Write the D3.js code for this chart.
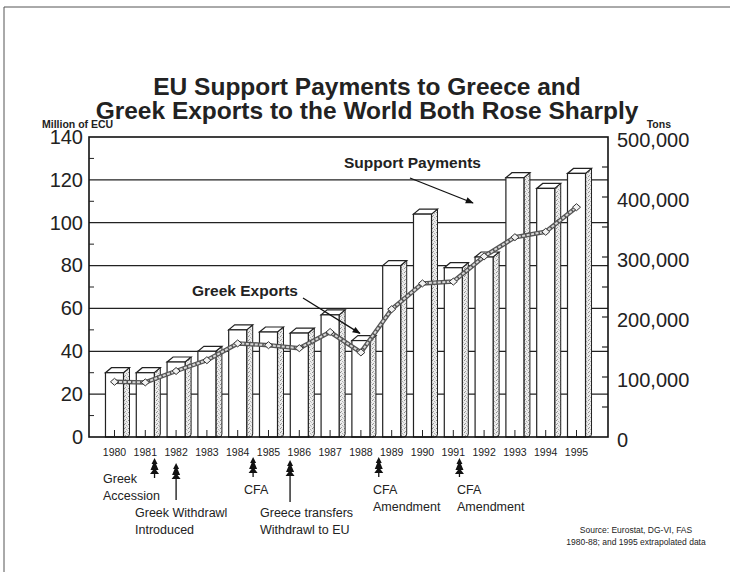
<!DOCTYPE html>
<html>
<head>
<meta charset="utf-8">
<script src="https://cdn.jsdelivr.net/npm/d3@7/dist/d3.min.js"></script>
<style>
  html, body { margin: 0; padding: 0; background: #fff; }
  svg { display: block; font-family: "Liberation Sans", Arial, Helvetica, sans-serif; }
</style>
</head>
<body>
<svg id="chart" width="730" height="572"></svg>
<script>
// Years on the category axis
const years = ["1980","1981","1982","1983","1984","1985","1986","1987",
               "1988","1989","1990","1991","1992","1993","1994","1995"];
// EU support payments, million ECU (bars, left axis)
const payments = [30, 30, 35, 40, 50, 49, 48.5, 57, 45, 80, 104, 79, 84, 121, 116, 123];
// Greek exports to the world, tons (line, right axis)
const exportTons = [92000, 91000, 110000, 128000, 156000, 153000, 148000, 175000,
                    141000, 213000, 256000, 259000, 301000, 333000, 342000, 383000];
// Axis tick values
const ecuTicks = [0, 20, 40, 60, 80, 100, 120, 140];
const tonTicks = [0, 100000, 200000, 300000, 400000, 500000];
// Policy events marked under the year axis
const events = [
  { year: "1981", lines: ["Greek", "Accession"] },
  { year: "1982", lines: ["Greek Withdrawl", "Introduced"] },
  { year: "1984", lines: ["CFA"] },
  { year: "1986", lines: ["Greece transfers", "Withdrawl to EU"] },
  { year: "1988", lines: ["CFA", "Amendment"] },
  { year: "1991", lines: ["CFA", "Amendment"] }
];
const titleLines = ["EU Support Payments to Greece and",
                    "Greek Exports to the World Both Rose Sharply"];
const sourceLines = ["Source: Eurostat, DG-VI, FAS", "1980-88; and 1995 extrapolated data"];

const svg = d3.select("#chart");
const plot = { left: 89, right: 608, top: 137, bottom: 437 };

const x = d3.scaleBand().domain(years).range([plot.left, plot.right])
  .paddingInner(0.22).paddingOuter(0.535);
const yEcu = d3.scaleLinear().domain([0, 140]).range([plot.bottom, plot.top]);
const yTon = d3.scaleLinear().domain([0, 500000]).range([plot.bottom, plot.top]);

const depthX = 6, depthY = 5;
const frontW = x.bandwidth() - depthX;
const cx = d => x(d) + frontW / 2;

// speckled texture for bar sides
const defs = svg.append("defs");
const pat = defs.append("pattern").attr("id", "stipple")
  .attr("width", 4).attr("height", 4).attr("patternUnits", "userSpaceOnUse");
pat.append("rect").attr("width", 4).attr("height", 4).attr("fill", "#ececec");
[[0, 0, "#8c8c8c"], [2, 1, "#b0b0b0"], [1, 3, "#9c9c9c"], [3, 2, "#c4c4c4"]].forEach(([px, py, c]) =>
  pat.append("rect").attr("x", px).attr("y", py).attr("width", 1).attr("height", 1).attr("fill", c));

// page frame
svg.append("path").attr("d", "M4,572V7H730").attr("fill", "none")
  .attr("stroke", "#555").attr("stroke-width", 1);

// title
svg.append("g").selectAll("text").data(titleLines).join("text")
  .attr("x", 367).attr("y", (d, i) => 95 + i * 24)
  .attr("text-anchor", "middle").attr("font-size", 24.5).attr("font-weight", "bold")
  .attr("fill", "#222").text(d => d);

// axis unit labels
svg.append("text").attr("x", 42).attr("y", 128).attr("font-size", 10.5)
  .attr("font-weight", "bold").attr("fill", "#222").text("Million of ECU");
svg.append("text").attr("x", 671).attr("y", 128).attr("text-anchor", "end")
  .attr("font-size", 10.5).attr("font-weight", "bold").attr("fill", "#222").text("Tons");

// horizontal grid (behind bars)
svg.append("g").selectAll("line").data(ecuTicks.filter(t => t > 0 && t < 140)).join("line")
  .attr("x1", plot.left).attr("x2", plot.right)
  .attr("y1", d => yEcu(d)).attr("y2", d => yEcu(d))
  .attr("stroke", "#222").attr("stroke-width", 1.2);

// 3D bars
const bars = svg.append("g").selectAll("g").data(years).join("g");
bars.append("path") // side face
  .attr("d", (d, i) => {
    const x0 = x(d) + frontW, yt = yEcu(payments[i]);
    return `M${x0},${yt}L${x0 + depthX},${yt - depthY}L${x0 + depthX},${plot.bottom - 3}` +
           `Q${x0 + depthX},${plot.bottom} ${x0 + depthX - 3},${plot.bottom}L${x0},${plot.bottom}Z`;
  })
  .attr("fill", "url(#stipple)").attr("stroke", "#222").attr("stroke-width", 1);
bars.append("path") // top face
  .attr("d", (d, i) => {
    const x0 = x(d), yt = yEcu(payments[i]);
    return `M${x0},${yt}L${x0 + frontW},${yt}L${x0 + frontW + depthX},${yt - depthY}` +
           `L${x0 + depthX},${yt - depthY}Z`;
  })
  .attr("fill", "#fff").attr("stroke", "#222").attr("stroke-width", 1.2);
bars.append("rect") // front face
  .attr("x", d => x(d)).attr("width", frontW)
  .attr("y", (d, i) => yEcu(payments[i]))
  .attr("height", (d, i) => plot.bottom - yEcu(payments[i]))
  .attr("fill", "#fff").attr("stroke", "#222").attr("stroke-width", 1.2);

// plot frame
svg.append("rect").attr("x", plot.left).attr("y", plot.top)
  .attr("width", plot.right - plot.left).attr("height", plot.bottom - plot.top)
  .attr("fill", "none").attr("stroke", "#111").attr("stroke-width", 1.6);

// left axis
const leftAxis = d3.axisLeft(yEcu).tickValues(ecuTicks).tickSize(0).tickPadding(6);
const gl = svg.append("g").attr("transform", `translate(${plot.left},0)`).call(leftAxis);
gl.select(".domain").remove();
gl.selectAll("text").attr("font-size", 20).attr("fill", "#222")
  .attr("font-family", "'Liberation Sans', Arial, sans-serif");
// left minor ticks
svg.append("g").selectAll("line").data(d3.range(10, 140, 20)).join("line")
  .attr("x1", plot.left).attr("x2", plot.left + 5)
  .attr("y1", d => yEcu(d)).attr("y2", d => yEcu(d))
  .attr("stroke", "#222").attr("stroke-width", 1);

// right axis
const rightAxis = d3.axisRight(yTon).tickValues(tonTicks).tickSize(0).tickPadding(9)
  .tickFormat(d3.format(","));
const gr = svg.append("g").attr("transform", `translate(${plot.right},3)`).call(rightAxis);
gr.select(".domain").remove();
gr.selectAll("text").attr("font-size", 20).attr("fill", "#222")
  .attr("font-family", "'Liberation Sans', Arial, sans-serif");
// right ticks every 50,000
svg.append("g").selectAll("line").data(d3.range(50000, 500000, 50000)).join("line")
  .attr("x1", plot.right - 6).attr("x2", plot.right)
  .attr("y1", d => yTon(d)).attr("y2", d => yTon(d))
  .attr("stroke", "#222").attr("stroke-width", 1.2);

// small year ticks along the base
svg.append("g").selectAll("line").data(years).join("line")
  .attr("x1", d => cx(d)).attr("x2", d => cx(d))
  .attr("y1", plot.bottom).attr("y2", plot.bottom - 7)
  .attr("stroke", "#222").attr("stroke-width", 1);

// year labels
svg.append("g").selectAll("text").data(years).join("text")
  .attr("x", d => cx(d)).attr("y", 456).attr("text-anchor", "middle")
  .attr("font-size", 10.5).attr("fill", "#222").text(d => d);

// exports line
const lineGen = d3.line().x((d, i) => cx(years[i])).y(d => yTon(d));
svg.append("path").datum(exportTons).attr("d", lineGen)
  .attr("fill", "none").attr("stroke", "#555").attr("stroke-width", 4.5)
  .attr("stroke-linejoin", "round");
svg.append("path").datum(exportTons).attr("d", lineGen)
  .attr("fill", "none").attr("stroke", "#d6d6d6").attr("stroke-width", 2)
  .attr("stroke-dasharray", "3,1.5");
svg.append("g").selectAll("path").data(exportTons).join("path")
  .attr("transform", (d, i) => `translate(${cx(years[i])},${yTon(d)})`)
  .attr("d", "M-4,0L0,-3.5L4,0L0,3.5Z")
  .attr("fill", "#f2f2f2").attr("stroke", "#333").attr("stroke-width", 1);

// arrowhead marker
defs.append("marker").attr("id", "head").attr("viewBox", "0 0 10 10")
  .attr("refX", 9).attr("refY", 5).attr("markerWidth", 12).attr("markerHeight", 8)
  .attr("markerUnits", "userSpaceOnUse").attr("orient", "auto")
  .append("path").attr("d", "M0,1L10,5L0,9Z").attr("fill", "#111");

// series call-outs
svg.append("text").attr("x", 192).attr("y", 296).attr("font-size", 15.5)
  .attr("font-weight", "bold").attr("fill", "#222").text("Greek Exports");
svg.append("line").attr("x1", 303).attr("y1", 298)
  .attr("x2", cx("1988") - 1).attr("y2", yTon(exportTons[8]) - 19)
  .attr("stroke", "#111").attr("stroke-width", 1.3).attr("marker-end", "url(#head)");
svg.append("text").attr("x", 344).attr("y", 168).attr("font-size", 15.5)
  .attr("font-weight", "bold").attr("fill", "#222").text("Support Payments");
svg.append("line").attr("x1", 410).attr("y1", 178).attr("x2", 473).attr("y2", 203)
  .attr("stroke", "#111").attr("stroke-width", 1.3).attr("marker-end", "url(#head)");

// event markers below the axis
const step = x.step();
const eventLayout = [
  { dx: 0.3 * step, head: 458, stem: 478, tx: 103, ty: 483 },
  { dx: 0,          head: 463, stem: 500, tx: 135, ty: 517 },
  { dx: 0.5 * step, head: 457, stem: 477, tx: 244, ty: 494 },
  { dx: -0.3 * step, head: 460, stem: 502, tx: 260, ty: 517 },
  { dx: 0.58 * step, head: 457, stem: 477, tx: 373, ty: 494 },
  { dx: 0.2 * step, head: 458, stem: 477, tx: 457, ty: 494 }
];
const ev = svg.append("g").selectAll("g").data(events).join("g");
ev.each(function(e, i) {
  const L = eventLayout[i];
  const ax = cx(e.year) + L.dx;
  const g = d3.select(this);
  g.append("line").attr("x1", ax).attr("x2", ax).attr("y1", L.head + 8).attr("y2", L.stem)
    .attr("stroke", "#111").attr("stroke-width", 1.3);
  g.append("path")
    .attr("d", `M${ax},${L.head}L${ax + 3},${L.head + 6}L${ax + 1.5},${L.head + 6}` +
               `L${ax + 4},${L.head + 12}L${ax + 1.5},${L.head + 12}L${ax + 4.5},${L.head + 16}` +
               `L${ax - 4.5},${L.head + 16}L${ax - 1.5},${L.head + 12}L${ax - 4},${L.head + 12}` +
               `L${ax - 1.5},${L.head + 6}L${ax - 3},${L.head + 6}Z`)
    .attr("fill", "#111");
  g.selectAll("text").data(e.lines).join("text")
    .attr("x", L.tx).attr("y", (d, j) => L.ty + j * 17)
    .attr("font-size", 12.5).attr("fill", "#222").text(d => d);
});

// source note
svg.append("g").selectAll("text").data(sourceLines).join("text")
  .attr("x", 636).attr("y", (d, i) => 533 + i * 12).attr("text-anchor", "middle")
  .attr("font-size", 8.5).attr("fill", "#222").text(d => d);
</script>
</body>
</html>
